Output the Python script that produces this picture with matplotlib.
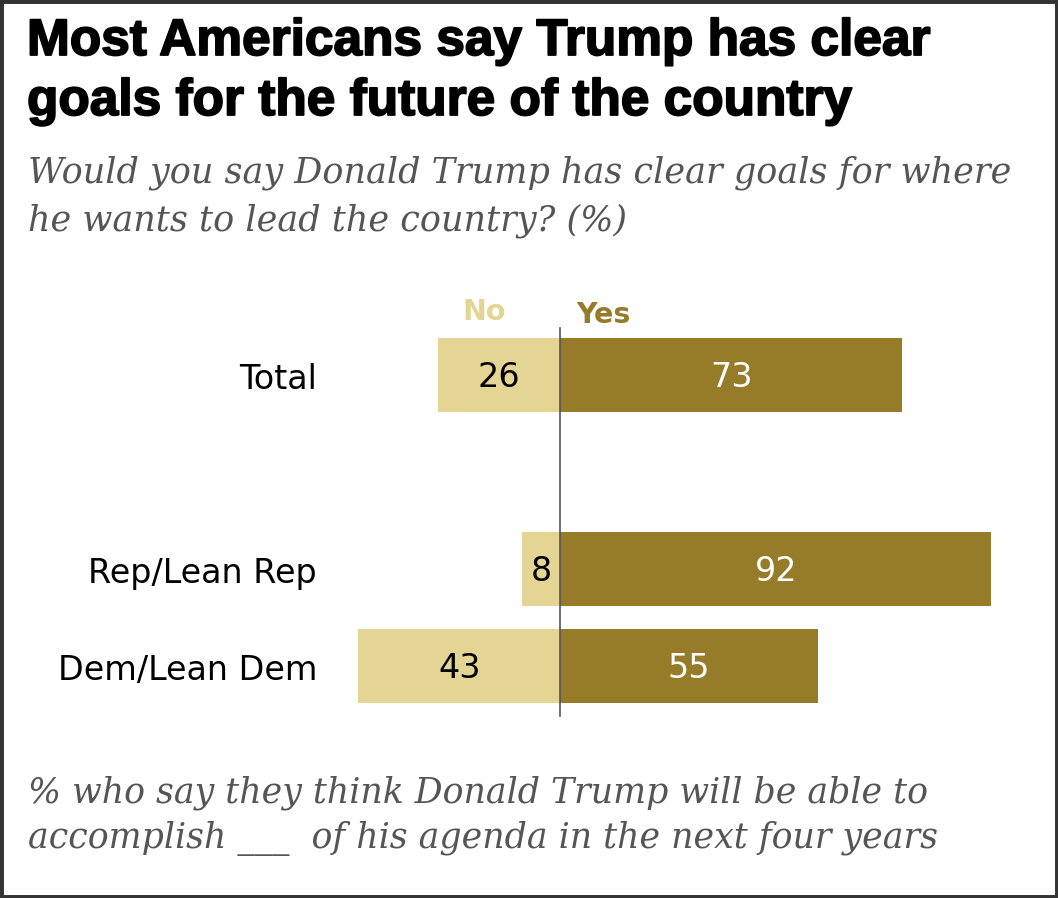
import matplotlib
matplotlib.use("Agg")
import matplotlib.pyplot as plt
import matplotlib.patheffects as pe
from matplotlib.patches import Rectangle

categories = ["Total", "Rep/Lean Rep", "Dem/Lean Dem"]
no_vals = [26, 8, 43]
yes_vals = [73, 92, 55]
series_names = ["No", "Yes"]

title_lines = ["Most Americans say Trump has clear", "goals for the future of the country"]
subtitle_lines = ["Would you say Donald Trump has clear goals for where",
                  "he wants to lead the country? (%)"]
footer_lines = ["% who say they think Donald Trump will be able to",
                "accomplish ___  of his agenda in the next four years"]

W, H = 1058, 898
DPI = 100
C_NO = "#E4D594"
C_YES = "#967B28"

fig = plt.figure(figsize=(W / DPI, H / DPI), dpi=DPI)
fig.patch.set_facecolor("white")

def fx(px):
    return px / W

def fy(py):
    return 1 - py / H

zero_px = 560
px_per_unit = 4.69
ax = fig.add_axes([0, 0, 1, 1])
ax.set_xlim(-zero_px / px_per_unit, (W - zero_px) / px_per_unit)
ax.set_ylim(H, 0)
ax.axis("off")

y_centers = [375, 569, 666]
bar_h = 74

ax.barh(y_centers, [-v for v in no_vals], height=bar_h, color=C_NO, edgecolor="none")
ax.barh(y_centers, yes_vals, height=bar_h, color=C_YES, edgecolor="none")
ax.plot([0, 0], [328, 716], color="#555555", lw=1.2)

lab_font = "DejaVu Sans"
for yc, cat, n, y in zip(y_centers, categories, no_vals, yes_vals):
    ax.text(-n / 2, yc + 12, str(n), ha="center", va="baseline", fontsize=24,
            family=lab_font, color="black")
    ax.text(y / 2, yc + 12, str(y), ha="center", va="baseline", fontsize=24,
            family=lab_font, color="white")
    fig.text(fx(317), fy(yc + 14), cat, ha="right", va="baseline", fontsize=24,
             family=lab_font, color="black")

fig.text(fx(484), fy(320), series_names[0], ha="center", va="baseline", fontsize=20.5,
         family=lab_font, weight="bold", color=C_NO)
fig.text(fx(603), fy(323), series_names[1], ha="center", va="baseline", fontsize=20.5,
         family=lab_font, weight="bold", color=C_YES)

for i, line in enumerate(title_lines):
    fig.text(fx(27), fy(55 + 60 * i), line, ha="left", va="baseline", fontsize=37,
             family="Liberation Sans", weight="bold", color="black",
             path_effects=[pe.withStroke(linewidth=1.3, foreground="black")])

for i, line in enumerate(subtitle_lines):
    fig.text(fx(28), fy(183 + 48 * i), line, ha="left", va="baseline", fontsize=25.2,
             family="DejaVu Serif", style="italic", color="#555555")

for i, line in enumerate(footer_lines):
    fig.text(fx(28), fy(802 + 46 * i), line, ha="left", va="baseline", fontsize=25,
             family="DejaVu Serif", style="italic", color="#555555")

fig.patches.append(Rectangle((0, 0), 1, 1, transform=fig.transFigure, fill=False,
                             edgecolor="#333333", lw=5))

fig.savefig("out.png", dpi=DPI)
